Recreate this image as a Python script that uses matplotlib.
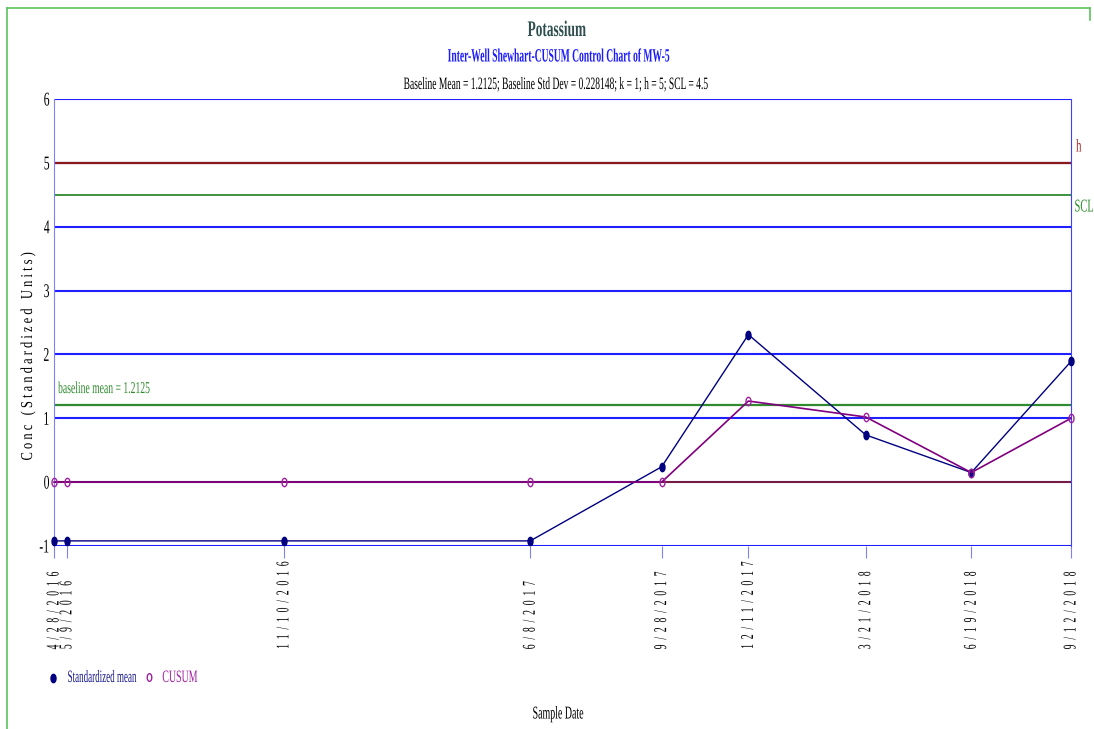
import matplotlib
matplotlib.use("Agg")
import matplotlib.pyplot as plt
from matplotlib.lines import Line2D
from matplotlib.patheffects import AbstractPathEffect
from matplotlib.transforms import Affine2D
from matplotlib.path import Path
import numpy as np
import datetime as dt

dates = ["4/28/2016", "5/9/2016", "11/10/2016", "6/8/2017", "9/28/2017",
         "12/11/2017", "3/21/2018", "6/19/2018", "9/12/2018"]
std_mean = [-0.92, -0.92, -0.92, -0.92, 0.24, 2.31, 0.74, 0.15, 1.89]
cusum = [0.0, 0.0, 0.0, 0.0, 0.0, 1.27, 1.02, 0.15, 1.0]
h_val = 5
scl_val = 4.5
baseline_mean = 1.2125
yticks = [-1, 0, 1, 2, 3, 4, 5, 6]

x = [dt.datetime.strptime(d, "%m/%d/%Y") for d in dates]

plt.rcParams['font.family'] = ['Liberation Serif', 'DejaVu Serif']


class Squeeze(AbstractPathEffect):
    """Condense glyphs along the text direction around an anchor."""
    def __init__(self, sx=0.58, anchor=0.5):
        super().__init__()
        self.sx = sx
        self.anchor = anchor

    def draw_path(self, renderer, gc, tpath, affine, rgbFace=None):
        if len(tpath.vertices) == 0:
            return
        ext = tpath.get_extents()
        x0 = ext.x0 + self.anchor * (ext.x1 - ext.x0)
        t = Affine2D().translate(-x0, 0).scale(self.sx, 1).translate(x0, 0) + affine
        renderer.draw_path(gc, tpath, t, rgbFace)


def sq(sx=0.58, anchor=0.5):
    return [Squeeze(sx, anchor)]


theta = np.linspace(0, 2 * np.pi, 40)
ellipse = Path(np.column_stack([0.6 * np.cos(theta), np.sin(theta)]), closed=True)

W, H = 1094, 729
fig = plt.figure(figsize=(10.94, 7.29), dpi=100)
ax = fig.add_axes([54/W, 1-546/H, (1071-54)/W, (546-99)/H])

for yv in yticks:
    ax.axhline(yv, color='#2020ff', lw=1.5, zorder=1)
ax.axhline(h_val, color='#8b1a1a', lw=1.6, zorder=2)
ax.axhline(scl_val, color='#2e8b2e', lw=1.3, zorder=2)
ax.axhline(baseline_mean, color='#2e8b2e', lw=1.6, zorder=2)
ax.axhline(0, color='#8b1a1a', lw=1.2, zorder=2)

ax.plot(x, std_mean, color='#000080', lw=1.0, marker=ellipse, ms=6,
        mfc='#000080', mec='#000080', zorder=4, clip_on=False)
ax.plot(x, cusum, color='#800080', lw=1.2, marker=ellipse, ms=6,
        mfc='none', mec='#a020a0', mew=1.0, zorder=5, clip_on=False)

ax.set_xlim(x[0], x[-1])
ax.set_ylim(-1, 6)
ax.set_yticks(yticks)
ax.set_yticklabels([str(v) for v in yticks], fontsize=14)
ax.tick_params(axis='y', length=0, pad=3)
for lbl in ax.get_yticklabels():
    lbl.set_path_effects(sq(0.6, 1.0))

# x tick labels: string start anchored at a common baseline below the axis
ax.set_xticks(x)
ax.set_xticklabels(['  '.join(d) for d in dates], rotation=90, fontsize=13,
                   rotation_mode='anchor', ha='left', va='center')
ax.tick_params(axis='x', direction='out', length=8.6, color='#8080ff', pad=66)
for lbl in ax.get_xticklabels():
    lbl.set_path_effects(sq(0.535, 0.0))

for s in ['top', 'bottom']:
    ax.spines[s].set_visible(False)
ax.spines['left'].set_color('#8080ff')
ax.spines['right'].set_color('#4040ff')

t = ax.text(0.004, baseline_mean + 0.12, 'baseline mean = 1.2125', color='#2e8b2e',
            fontsize=12, transform=ax.get_yaxis_transform(), va='bottom', ha='left')
t.set_path_effects(sq(0.58, 0.0))

t = fig.text(1076/W, 1-147/H, 'h', color='#a52a2a', fontsize=13, ha='left', va='center')
t.set_path_effects(sq(0.6, 0.0))
t = fig.text(1074/W, 1-207/H, 'SCL', color='#2e8b2e', fontsize=13, ha='left', va='center')
t.set_path_effects(sq(0.58, 0.0))

t = fig.text(28/W, 1-357/H, ' '.join('Conc (Standardized Units)'), fontsize=12,
             rotation=90, ha='center', va='center')
t.set_path_effects(sq(0.75, 0.5))

t = fig.text(557/W, 1-31/H, 'Potassium', color='#2f4f4f', fontsize=16,
             fontweight='bold', ha='center', va='center')
t.set_path_effects(sq(0.6, 0.5))
t = fig.text(559/W, 1-57/H, 'Inter-Well Shewhart-CUSUM Control Chart of MW-5',
             color='#1a1aff', fontsize=13.5, fontweight='bold', ha='center', va='center')
t.set_path_effects(sq(0.51, 0.5))
t = fig.text(557/W, 1-85/H,
             'Baseline Mean = 1.2125; Baseline Std Dev = 0.228148; k = 1; h = 5; SCL = 4.5',
             color='black', fontsize=12.5, ha='center', va='center')
t.set_path_effects(sq(0.55, 0.5))
t = fig.text(558/W, 1-714/H, 'Sample Date', color='black', fontsize=13,
             ha='center', va='center')
t.set_path_effects(sq(0.55, 0.5))

fig.add_artist(Line2D([53/W], [1-678/H], marker=ellipse, ms=6, color='#000080',
                      mfc='#000080', ls='none'))
t = fig.text(67/W, 1-678/H, 'Standardized mean', color='#1a1a8b', fontsize=12.5,
             ha='left', va='center')
t.set_path_effects(sq(0.52, 0.0))
fig.add_artist(Line2D([149/W], [1-677/H], marker=ellipse, ms=5.5, color='#a020a0',
                      mfc='none', ls='none'))
t = fig.text(162/W, 1-678/H, 'CUSUM', color='#a020a0', fontsize=12.5,
             ha='left', va='center')
t.set_path_effects(sq(0.57, 0.0))

border = '#5cc25c'
fig.add_artist(Line2D([7/W, 7/W], [0, 1-8/H], color=border, lw=1.2))
fig.add_artist(Line2D([7/W, 1090/W], [1-8/H, 1-8/H], color=border, lw=1.2))
fig.add_artist(Line2D([1090/W, 1090/W], [1-8/H, 1-20/H], color=border, lw=1.2))

fig.savefig('out.png', dpi=100)
